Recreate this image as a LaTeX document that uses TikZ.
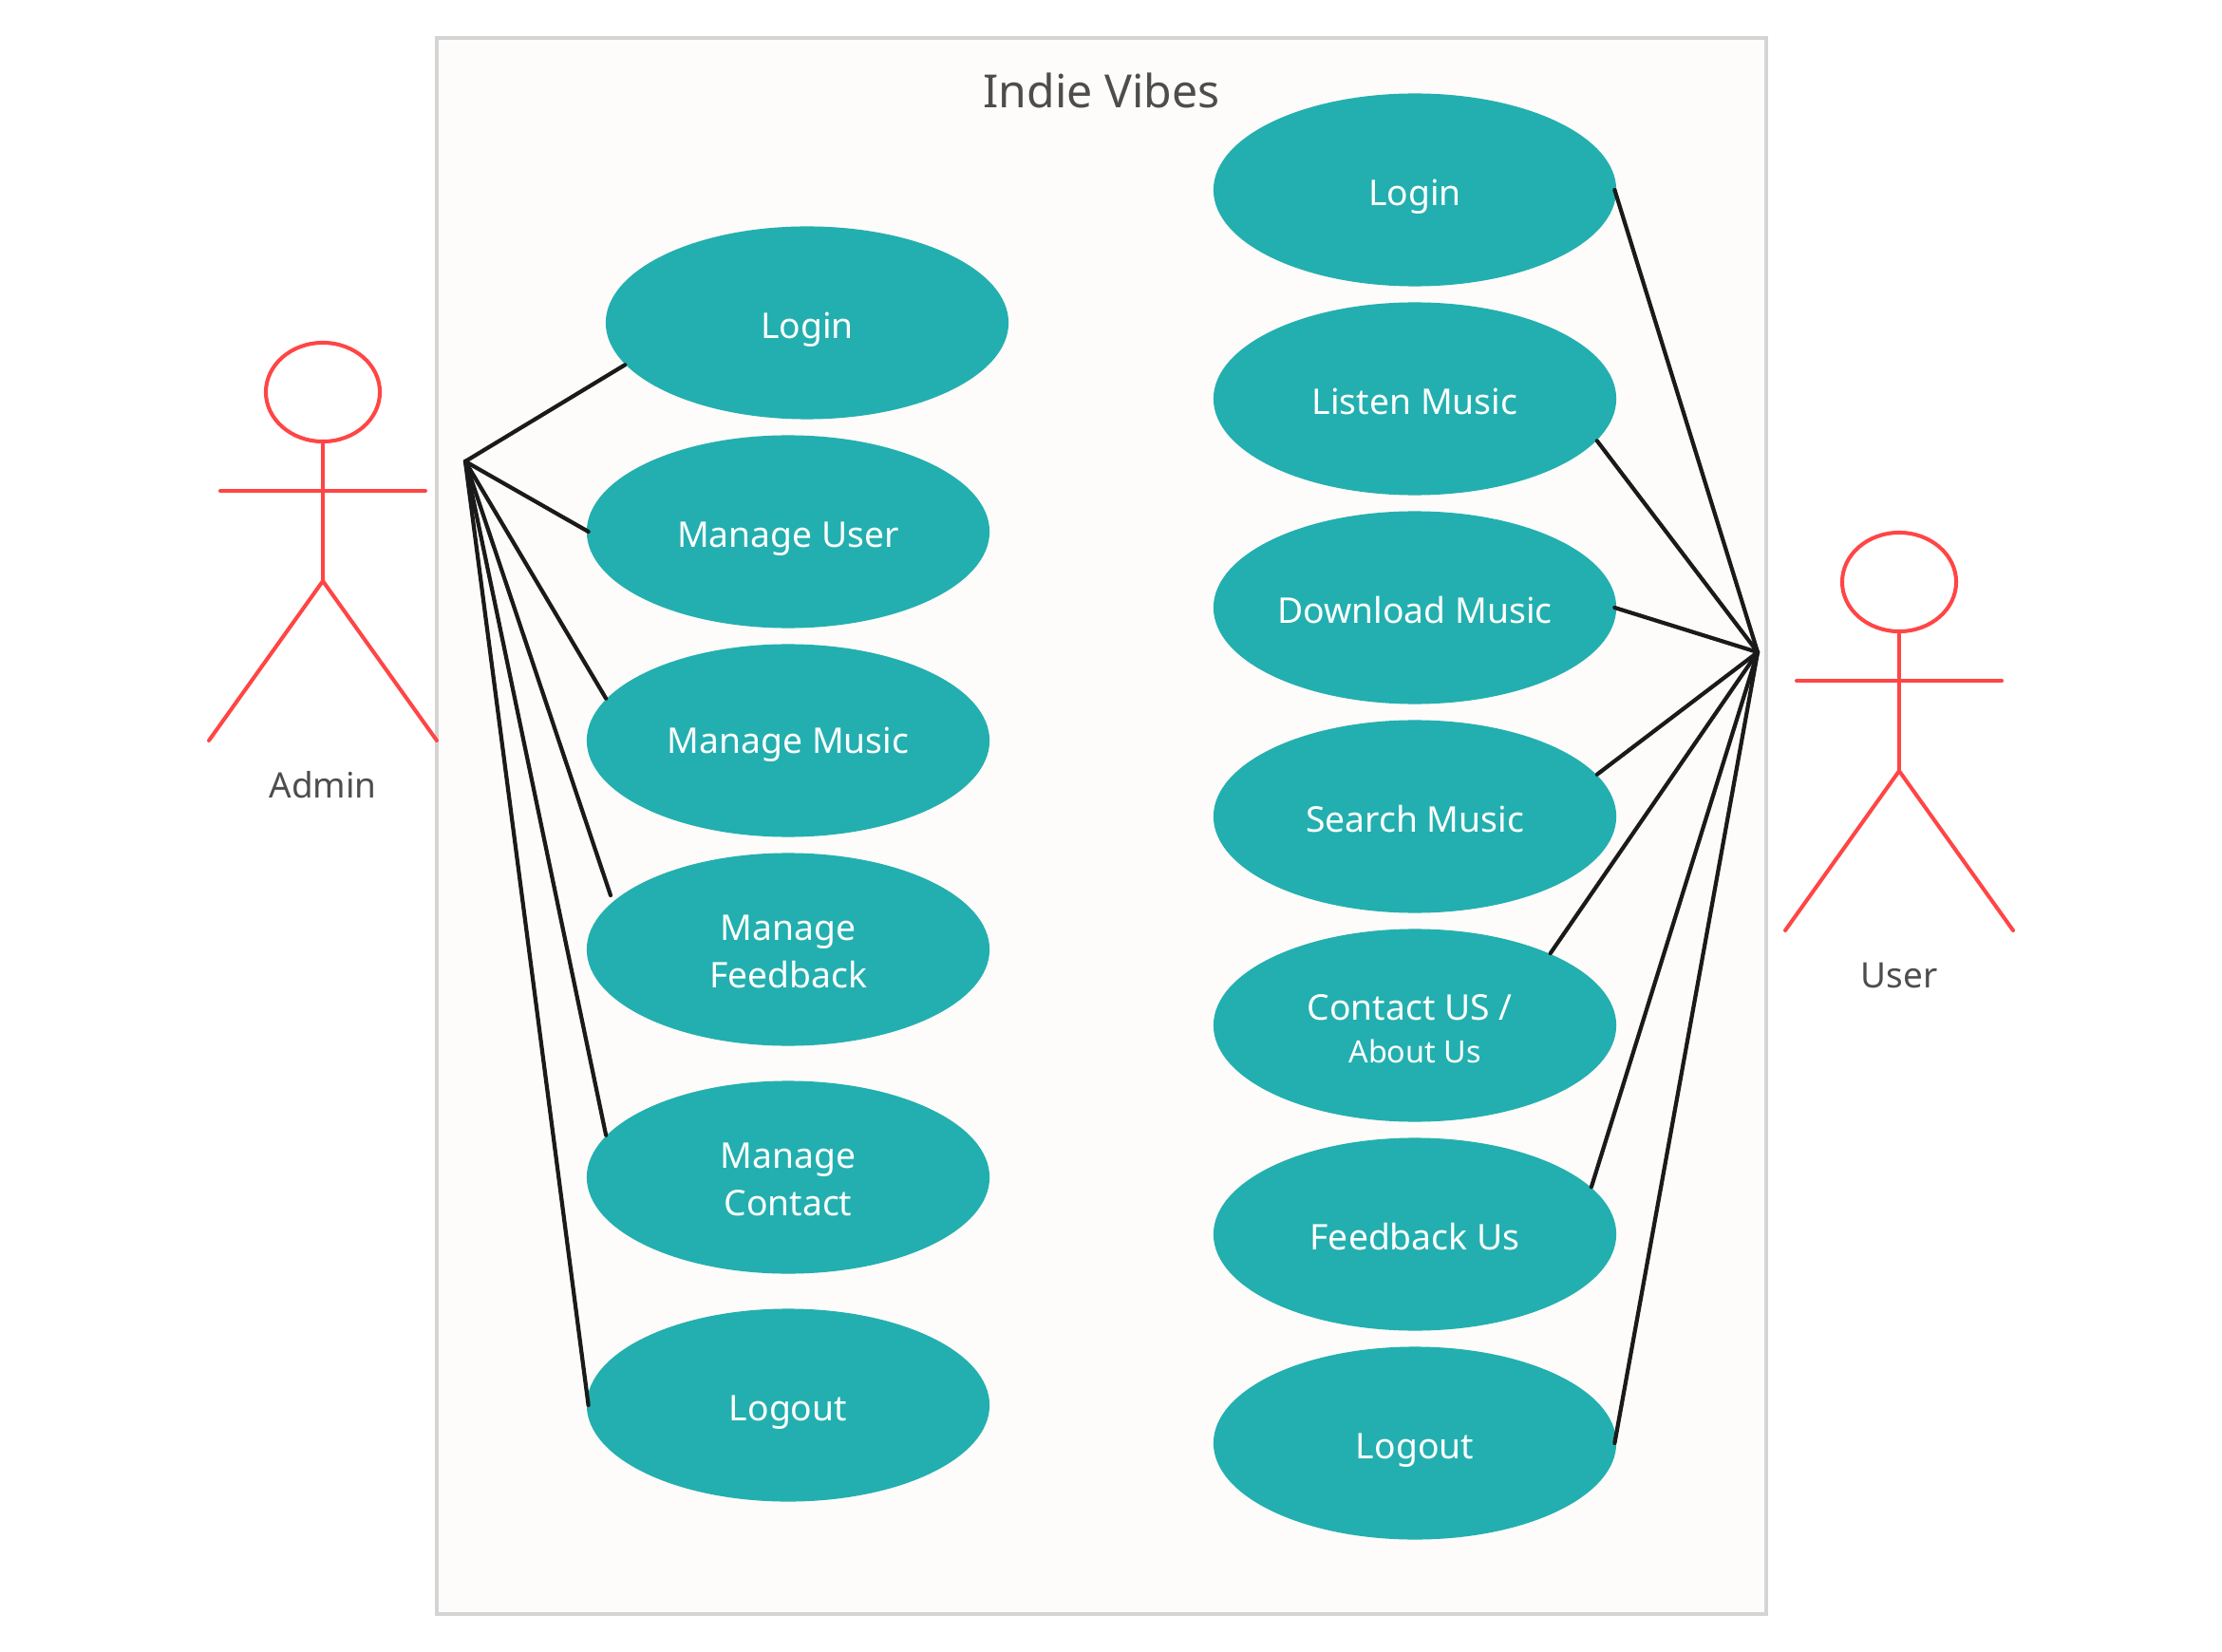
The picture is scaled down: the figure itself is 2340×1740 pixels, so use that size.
\documentclass[tikz,border=0pt]{standalone}
\usepackage{fontspec}
\setmainfont{Noto Sans}
\usetikzlibrary{shapes.geometric}

\definecolor{usecasefill}{HTML}{23AFAF}
\definecolor{framefill}{HTML}{FDFCFA}
\definecolor{frameline}{HTML}{D4D4D4}
\definecolor{actorline}{HTML}{FF4545}
\definecolor{labeltext}{HTML}{4D4D4D}
\definecolor{linkline}{HTML}{1A1A1A}

\tikzset{
    usecase/.style={ellipse, fill=usecasefill, text=white, inner sep=0pt, minimum width=4.24cm, minimum height=2.03cm, align=center, font=\fontsize{10.6}{14.3}\selectfont},
    oneline/.style={usecase, text height=9.2pt, text depth=0pt},
    actor/.style={draw=actorline, line width=1.15pt, line cap=round},
    actorhead/.style={ellipse, draw=actorline, line width=1.15pt, inner sep=0pt, minimum width=1.2cm, minimum height=1.04cm},
    actorname/.style={text=labeltext, font=\fontsize{10.5}{14}\selectfont},
    link/.style={draw=linkline, line width=1.2pt, line cap=round}
}

\begin{document}
\begin{tikzpicture}[x=0.01cm, y=-0.01cm]
        \useasboundingbox (0, 0) rectangle (2340, 1740);
        \fill[white] (0, 0) rectangle (2340, 1740);
        \draw[frameline, fill=framefill, line width=1.15pt] (460, 40) rectangle (1860, 1700);
        \node[text=labeltext, font=\fontsize{13.7}{17}\selectfont] (title) at (1160, 95) {Indie Vibes};

        \coordinate (adminhub) at (490, 486);
        \coordinate (userhub) at (1851, 687);
        \coordinate (feedbackend) at (643, 943);

        \node[oneline] (adminlogin) at (850, 340) {Login};
        \node[oneline] (manageuser) at (830, 560) {Manage User};
        \node[oneline, text height=7.5pt] (managemusic) at (830, 780) {Manage Music};
        \node[usecase] (managefeedback) at (830, 1000) {\rule{0pt}{9pt}Manage\\Feedback};
        \node[usecase] (managecontact) at (830, 1240) {\rule{0pt}{9pt}Manage\\Contact};
        \node[oneline] (adminlogout) at (830, 1480) {Logout};

        \node[oneline] (userlogin) at (1490, 200) {Login};
        \node[oneline] (listenmusic) at (1490, 420) {Listen Music};
        \node[oneline] (downloadmusic) at (1490, 640) {Download Music};
        \node[oneline] (searchmusic) at (1490, 860) {Search Music};
        \node[usecase] (contactus) at (1490, 1080) {\rule{0pt}{10pt}Contact US /\hspace*{3pt}\\[-1.5pt]{\fontsize{9.2}{12}\selectfont About Us}};
        \node[oneline] (feedbackus) at (1490, 1300) {Feedback Us};
        \node[oneline] (userlogout) at (1490, 1520) {Logout};

        \draw[link] (adminhub) -- (adminlogin.193);
        \draw[link] (adminhub) -- ([xshift=0.7pt]manageuser.west);
        \draw[link] (adminhub) -- (managemusic.167);
        \draw[link] (adminhub) -- (feedbackend);
        \draw[link] (adminhub) -- (managecontact.167);
        \draw[link] (adminhub) -- ([xshift=0.7pt]adminlogout.west);

        \draw[link] (userhub) -- ([xshift=-0.7pt]userlogin.east);
        \draw[link] (userhub) -- (listenmusic.-13);
        \draw[link] (userhub) -- ([xshift=-0.7pt]downloadmusic.east);
        \draw[link] (userhub) -- (searchmusic.13);
        \draw[link] (userhub) -- (contactus.28);
        \draw[link] (userhub) -- (feedbackus.15);
        \draw[link] (userhub) -- ([xshift=-0.7pt]userlogout.east);

        \node[actorhead] (adminhead) at (340, 413) {};
        \coordinate (adminhip) at (340, 612);
        \coordinate (adminarmleft) at (232, 517);
        \coordinate (adminarmright) at (448, 517);
        \coordinate (adminfootleft) at (220, 780);
        \coordinate (adminfootright) at (460, 780);
        \draw[actor] (adminhead.south) -- (adminhip);
        \draw[actor] (adminarmleft) -- (adminarmright);
        \draw[actor] (adminfootleft) -- (adminhip) -- (adminfootright);
        \node[actorname] (adminname) at (340, 827) {Admin};

        \node[actorhead] (userhead) at (2000, 613) {};
        \coordinate (userhip) at (2000, 812);
        \coordinate (userarmleft) at (1892, 717);
        \coordinate (userarmright) at (2108, 717);
        \coordinate (userfootleft) at (1880, 980);
        \coordinate (userfootright) at (2120, 980);
        \draw[actor] (userhead.south) -- (userhip);
        \draw[actor] (userarmleft) -- (userarmright);
        \draw[actor] (userfootleft) -- (userhip) -- (userfootright);
        \node[actorname] (username) at (2000, 1027) {User};
    \end{tikzpicture}
\end{document}
